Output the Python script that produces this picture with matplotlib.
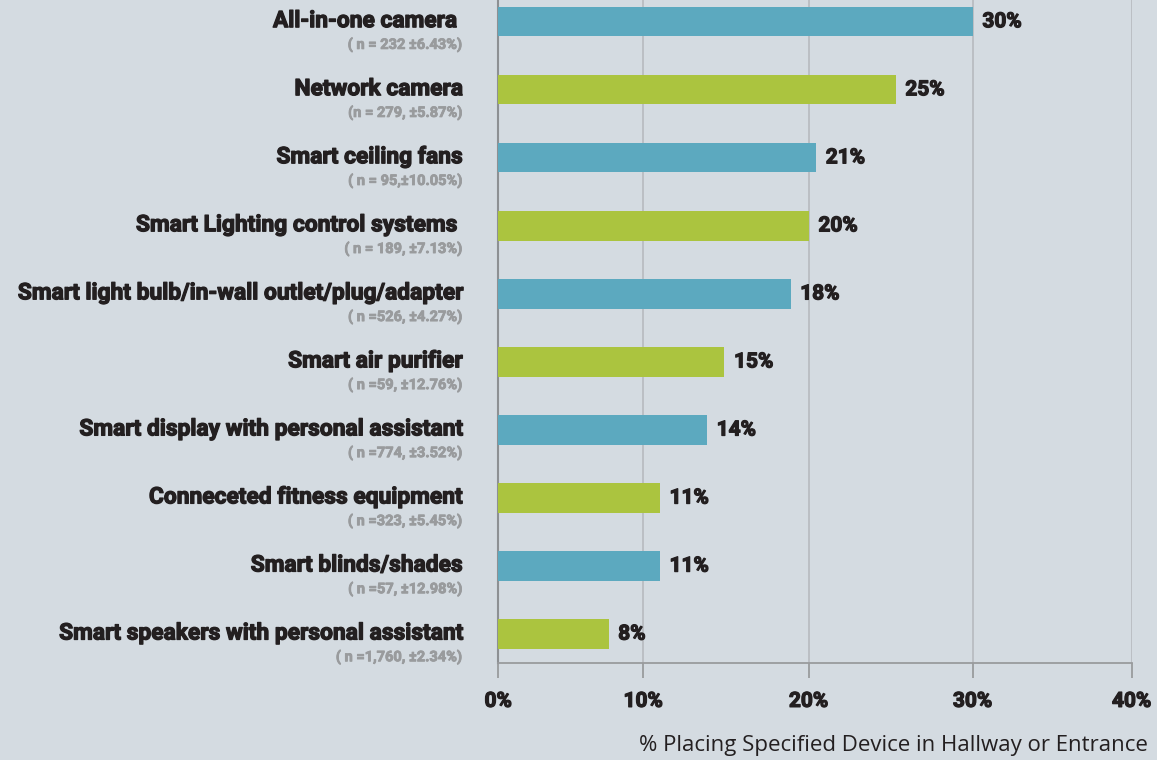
import numpy as np
import matplotlib
matplotlib.use("Agg")
import matplotlib.pyplot as plt
import matplotlib.patheffects as pe

# data (top to bottom)
devices = ["All-in-one camera ", "Network camera", "Smart ceiling fans",
           "Smart Lighting control systems ", "Smart light bulb/in-wall outlet/plug/adapter",
           "Smart air purifier", "Smart display with personal assistant",
           "Conneceted fitness equipment", "Smart blinds/shades",
           "Smart speakers with personal assistant"]
samples = ["( n = 232 \u00b16.43%)", "(n = 279, \u00b15.87%)", "( n = 95,\u00b110.05%)",
           "( n = 189, \u00b17.13%)", "( n =526, \u00b14.27%)", "( n =59, \u00b112.76%)",
           "( n =774, \u00b13.52%)", "( n =323, \u00b15.45%)", "( n =57, \u00b112.98%)",
           "( n =1,760, \u00b12.34%)"]
# bar lengths as drawn in the picture
lengths = [30.0, 25.3, 20.45, 20.0, 18.9, 14.9, 13.85, 11.0, 11.0, 7.6]
value_labels = ["30%", "25%", "21%", "20%", "18%", "15%", "14%", "11%", "11%", "8%"]
ticks = [0, 10, 20, 30, 40]
tick_labels = ["0%", "10%", "20%", "30%", "40%"]
# the grid in the picture is not evenly spaced; relative tick positions
tick_pos = [0, 145.0, 310.4, 474.4, 633.4]

BG = "#d4dbe1"
BLUE = "#5ca9bf"
GREEN = "#abc43f"
DARK = "#231f20"
GRAY = "#999b9d"
HEAVY = ["Roboto", "DejaVu Sans"]
thick = [pe.withStroke(linewidth=0.9, foreground=DARK)]
thick_gray = [pe.withStroke(linewidth=0.6, foreground=GRAY)]

def fwd(x):
    return np.interp(x, ticks, tick_pos)

def inv(p):
    return np.interp(p, tick_pos, ticks)

fig = plt.figure(figsize=(11.57, 7.6), dpi=100, facecolor=BG)
ax = fig.add_axes([498.3 / 1157, 1 - 662.7 / 760, (1131.7 - 498.3) / 1157, 662.7 / 760])
ax.set_facecolor(BG)
ax.set_xscale("function", functions=(fwd, inv))
ax.set_xlim(0, 40)

y = np.arange(len(devices))
colors = [BLUE if i % 2 == 0 else GREEN for i in y]
ax.barh(y, lengths, height=0.43, color=colors, zorder=3)
ax.set_ylim(9.42, -0.32)

for t in ticks[1:]:
    ax.axvline(t, color="#b9bdc1", lw=1.3, zorder=1)

for i in y:
    ax.annotate(value_labels[i], xy=(lengths[i], i), xytext=(7, 0), textcoords="offset points",
                va="center", ha="left", fontsize=15, fontweight="bold", family=HEAVY, color=DARK,
                path_effects=thick)
    ax.annotate(devices[i], xy=(0, i), xycoords=("axes fraction", "data"), xytext=(-25.8, 0.8),
                textcoords="offset points", ha="right", va="center", fontsize=16.4,
                fontweight="bold", family=HEAVY, color=DARK, path_effects=thick)
    ax.annotate(samples[i], xy=(0, i), xycoords=("axes fraction", "data"), xytext=(-25.8, -16.5),
                textcoords="offset points", ha="right", va="center", fontsize=10.5,
                fontweight="bold", family=HEAVY, color=GRAY, path_effects=thick_gray)

for s in ["top", "right"]:
    ax.spines[s].set_visible(False)
ax.spines["left"].set_color("#8d9093")
ax.spines["left"].set_linewidth(1.5)
ax.spines["bottom"].set_color("#999b9d")
ax.spines["bottom"].set_linewidth(1.3)
ax.set_yticks([])
ax.set_xticks(ticks)
ax.set_xticklabels(tick_labels, fontsize=15, fontweight="bold", family=HEAVY, color=DARK)
for lab in ax.get_xticklabels():
    lab.set_path_effects(thick)
ax.tick_params(axis="x", length=11, width=1.3, color="#999b9d", pad=10)
ax.xaxis.set_minor_locator(matplotlib.ticker.NullLocator())

fig.text(1148 / 1157, 1 - 745 / 760, "% Placing Specified Device in Hallway or Entrance",
         ha="right", va="center", fontsize=16, family=["Open Sans", "DejaVu Sans"], color=DARK)

fig.savefig("out.png", dpi=100, facecolor=BG)
